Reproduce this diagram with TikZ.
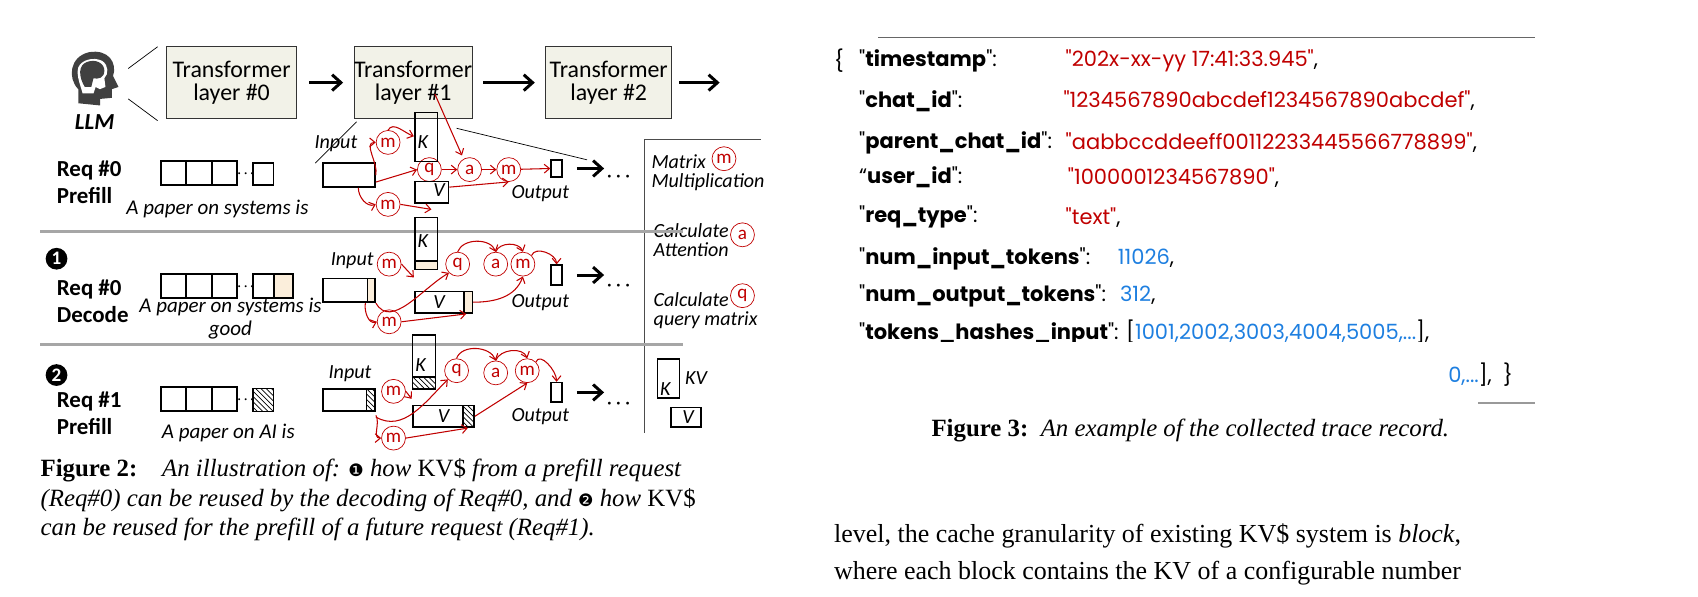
\documentclass[tikz,border=0pt]{standalone}
\usepackage{fontspec}
\setmainfont{Liberation Serif}
\newfontfamily\fig{Carlito}
\newfontfamily\js{Poppins}
\newfontfamily\dv{DejaVu Sans}
\usetikzlibrary{arrows.meta,patterns}
\definecolor{rd}{HTML}{C00000}
\definecolor{bl}{HTML}{1E7FE0}
\definecolor{lay}{HTML}{F2F2E8}
\definecolor{bei}{HTML}{FBEEDB}
\begin{document}
\begin{tikzpicture}[x=0.02174cm,y=-0.02174cm,every node/.append style={scale=1.087},
  layer/.style={draw=black!80,fill=lay,minimum width=120*0.02cm,minimum height=66*0.02cm,align=center,font=\fig\fontsize{12.5}{12}\selectfont,inner sep=0},
  big/.style={-{Straight Barb[length=5pt,width=9pt]},line width=1.7pt},
  op/.style={circle,draw=rd,text=rd,minimum size=22*0.02cm,inner sep=0,font=\fig\fontsize{10}{10}\selectfont},
  ra/.style={draw=rd,-{Straight Barb[length=3pt,width=5pt]},line width=0.6pt},
  bx/.style={draw,line width=0.9pt,inner sep=0},
  lbl/.style={font=\fig\itshape\fontsize{10.5}{10}\selectfont,inner sep=0},
  req/.style={font=\fig\bfseries\fontsize{12}{14}\selectfont,align=left,anchor=west,inner sep=0},
  sep/.style={draw=black!35,line width=1.8pt},
  num/.style={circle,fill=black,text=white,font=\fig\bfseries\fontsize{10}{10}\selectfont,minimum size=20*0.02cm,inner sep=0},
  jk/.style={font=\js\bfseries\fontsize{11}{11}\selectfont,anchor=west,inner sep=0},
  jv/.style={font=\js\fontsize{11}{11}\selectfont,anchor=west,inner sep=0},
  capt/.style={font=\fontsize{13}{15}\selectfont,anchor=west,inner sep=0}]
\useasboundingbox (0,0) rectangle (1562,549);
% ---------- Figure 2 ----------
\fill[black!75] (72,95) -- (72,82) .. controls (62,72) and (64,52) .. (82,48) .. controls (100,45) and (108,58) .. (104,70) -- (109,80) -- (103,82) -- (103,90) -- (92,91) -- (92,97) -- cycle;
\fill[white] (76,86) .. controls (74,78) and (70,70) .. (72,62) .. controls (75,55) and (86,52) .. (94,56) .. controls (100,60) and (100,68) .. (96,72) -- (97,80) -- (92,82) -- (88,80) -- (86,86) -- cycle;
\fill[black!75] (78,80) .. controls (72,70) and (72,60) .. (80,57) .. controls (88,54) and (96,58) .. (96,65) .. controls (96,72) and (90,73) .. (86,72) -- (84,80) -- cycle;
\node[font=\fig\bfseries\itshape\fontsize{12}{12}\selectfont] (llm) at (87,112) {LLM};
\coordinate (h1) at (118,63); \coordinate (h2) at (145,43);
\coordinate (h3) at (118,91); \coordinate (h4) at (145,111);
\draw (h1)--(h2) (h3)--(h4);
\node[layer] (L0) at (213,76) {Transformer\\layer \#0};
\node[layer,minimum width=106*0.02cm] (L1) at (380,76) {Transformer\\layer \#1};
\node[layer,minimum width=116*0.02cm] (L2) at (560,76) {Transformer\\layer \#2};
\coordinate (Lend) at (662,76);
\draw[big] ([xshift=7]L0.east) -- ([xshift=-6]L1.west);
\draw[big] ([xshift=6]L1.east) -- ([xshift=-6]L2.west);
\draw[big] ([xshift=4]L2.east) -- (Lend);
\coordinate (z1) at (290,150); \coordinate (z2) at (328,112);
\coordinate (z3) at (420,118); \coordinate (z4) at (540,147);
\draw (z2)--(z1) (z3)--(z4);
% legend panel
\coordinate (p1) at (700,128); \coordinate (p2) at (593,128); \coordinate (p3) at (593,398);
\draw[black!70] (p1)--(p2)--(p3);
\node[lbl,align=left,anchor=north west] (lg1) at (599,142) {Matrix\\Multiplication};
\node[op] (lgm) at (666,146) {m};
\node[lbl,align=left,anchor=north west] (lg2) at (601,205) {Calculate\\Attention};
\node[op] (lga) at (683,216) {a};
\node[lbl,align=left,anchor=north west] (lg3) at (601,269) {Calculate\\query matrix};
\node[op] (lgq) at (683,272) {q};
\node[bx,minimum width=20*0.02cm,minimum height=36*0.02cm] (lgK) at (615,348) {};
\node[lbl] at (612,358) {K};
\node[lbl,anchor=west] (lgkv) at (630,348) {KV};
\node[bx,minimum width=28*0.02cm,minimum height=18*0.02cm] (lgV) at (631,384) {};
\node[lbl] at (633,384) {V};
% separators
\draw[sep] (37,213) -- (628,213);
\draw[sep] (37,317) -- (628,317);
\foreach \y in {159,263,367}{
  \draw[line width=0.9pt] (148,\y-11) rectangle (218,\y+11) (171,\y-11)--(171,\y+11) (195,\y-11)--(195,\y+11);
  \node[font=\fig\bfseries] at (226,\y+1) {$\cdot\!\cdot\!\cdot$};
}
% ---- row 1
\node[req] (r1) at (52,168) {Req \#0\\Prefill};
\node[bx,minimum width=19*0.02cm,minimum height=20*0.02cm] (t1) at (242,160) {};
\node[lbl,font=\fig\itshape\fontsize{11}{11}\selectfont] (s1) at (200,192) {A paper on systems is};
\node[bx,minimum width=48*0.02cm,minimum height=22*0.02cm] (in1) at (321,161) {};
\node[lbl] (il1) at (309,132) {Input};
\node[op] (m1a) at (357,131) {m};
\node[op] (m1b) at (357,188) {m};
\node[op] (q1) at (395,156) {q};
\node[op] (a1) at (432,156) {a};
\node[op] (m1c) at (468,156) {m};
\node[bx,minimum width=21*0.02cm,minimum height=45*0.02cm] (K1) at (392,126) {};
\node[lbl] at (389,131) {K};
\node[bx,minimum width=31*0.02cm,minimum height=20*0.02cm] (V1) at (397,177) {};
\node[lbl] at (404,175) {V};
\node[bx,minimum width=10*0.02cm,minimum height=16*0.02cm] (o1) at (512,155) {};
\node[lbl] (ol1) at (497,178) {Output};
\draw[big] ([xshift=8]o1.east) -- ++(25,0) coordinate (e1);
\node[font=\fig\bfseries\Large] (d1) at (569,163) {$\cdot\!\cdot\!\cdot$};
\draw[ra] (in1.east) to[out=80,in=180] (m1a.west);
\draw[ra] (m1a.north) to[out=60,in=160] ([yshift=-14]K1.north west);
\draw[ra] ([xshift=-2,yshift=10]K1.north east) -- (425,143);
\draw[ra] ([yshift=-4]in1.east) -- (q1.west);
\draw[ra] (q1) -- (a1);
\draw[ra] (a1) -- (m1c);
\draw[ra] (m1c) -- (o1.west);
\draw[ra] ([xshift=-10]in1.south east) to[out=-90,in=200] (m1b.west);
\draw[ra] (m1b.east) -- ([xshift=10,yshift=-3]V1.south west);
\draw[ra] ([yshift=3]V1.east) -- (m1c.south);
% ---- row 2
\node[num] (n1) at (52,238) {1};
\node[req] (r2) at (52,277) {Req \#0\\Decode};
\node[bx,minimum width=37*0.02cm,minimum height=22*0.02cm] (t2) at (251,263) {};
\filldraw[fill=bei,line width=0.9pt] (252,252) rectangle (269.5,274);
\node[lbl,align=center,font=\fig\itshape\fontsize{11}{12}\selectfont] (s2) at (212,293) {A paper on systems is\\good};
\node[bx,minimum width=48*0.02cm,minimum height=22*0.02cm] (in2) at (321,267) {};
\filldraw[fill=bei,line width=0.9pt] (338,256) rectangle (345,278);
\node[lbl] (il2) at (324,240) {Input};
\node[bx,minimum width=21*0.02cm,minimum height=48*0.02cm] (K2) at (392,224) {};
\filldraw[fill=bei,line width=0.9pt] (381.5,240) rectangle (402.5,248);
\node[lbl] at (389,222) {K};
\node[bx,minimum width=53*0.02cm,minimum height=20*0.02cm] (V2) at (408,278) {};
\filldraw[fill=bei,line width=0.9pt] (427,268) rectangle (434.5,288);
\node[lbl] at (404,278) {V};
\node[op] (m2a) at (358,243) {m};
\node[op] (m2b) at (358,296) {m};
\node[op] (q2) at (421,243) {q};
\node[op] (a2) at (456,243) {a};
\node[op] (m2c) at (481,243) {m};
\node[bx,minimum width=10*0.02cm,minimum height=18*0.02cm] (o2) at (512,253) {};
\node[lbl] (ol2) at (497,278) {Output};
\draw[big] ([xshift=8]o2.east) -- ++(25,0) coordinate (e2);
\node[font=\fig\bfseries\Large] (d2) at (569,263) {$\cdot\!\cdot\!\cdot$};
\draw[ra] (m2a.east) -- ([yshift=-4]K2.south west);
\draw[ra] (in2.south east) to[out=-60,in=210] (q2.south west);
\draw[ra] (q2.north) to[out=70,in=110] (a2.north);
\draw[ra] (a2.north) to[out=70,in=110] (m2c.north);
\draw[ra] (m2c.north east) to[out=70,in=90] (o2.north);
\draw[ra] ([xshift=-6]in2.south east) to[out=-100,in=200] (m2b.west);
\draw[ra] (m2b.east) -- ([xshift=-4]V2.south east);
\draw[ra] (V2.east) to[out=0,in=-110] (m2c.south);
% ---- row 3
\node[num] (n2) at (52,345) {2};
\node[req] (r3) at (52,380) {Req \#1\\Prefill};
\node[bx,minimum width=19*0.02cm,minimum height=21*0.02cm,pattern=north west lines] (t3) at (242,368) {};
\node[lbl,font=\fig\itshape\fontsize{11}{11}\selectfont] (s3) at (210,398) {A paper on AI is};
\node[bx,minimum width=48*0.02cm,minimum height=20*0.02cm] (in3) at (321,368) {};
\draw[pattern=north west lines,line width=0.9pt] (337,358) rectangle (345,378);
\node[lbl] (il3) at (322,344) {Input};
\node[bx,minimum width=21*0.02cm,minimum height=50*0.02cm] (K3) at (390,333) {};
\draw[pattern=north west lines,line width=0.9pt] (379.5,347) rectangle (400.5,358);
\node[lbl] at (387,336) {K};
\node[bx,minimum width=56*0.02cm,minimum height=20*0.02cm] (V3) at (408,383) {};
\draw[pattern=north west lines,line width=0.9pt] (426,373) rectangle (436,393);
\node[lbl] at (408,383) {V};
\node[op] (m3a) at (362,360) {m};
\node[op] (m3b) at (362,403) {m};
\node[op] (q3) at (420,341) {q};
\node[op] (a3) at (456,343) {a};
\node[op] (m3c) at (485,341) {m};
\node[bx,minimum width=10*0.02cm,minimum height=18*0.02cm] (o3) at (512,361) {};
\node[lbl] (ol3) at (497,383) {Output};
\draw[big] ([xshift=8]o3.east) -- ++(25,0) coordinate (e3);
\node[font=\fig\bfseries\Large] (d3) at (569,372) {$\cdot\!\cdot\!\cdot$};
\draw[ra] (m3a.east) -- ([yshift=-5]K3.south west);
\draw[ra] ([yshift=-3]in3.south east) to[out=-30,in=225] (q3.south west);
\draw[ra] (q3.north) to[out=70,in=110] (a3.north);
\draw[ra] (a3.north) to[out=70,in=110] (m3c.north);
\draw[ra] (m3c.north east) to[out=70,in=90] (o3.north);
\draw[ra] ([yshift=-2]in3.south east) to[out=-60,in=180] (m3b.west);
\draw[ra] (m3b.east) -- ([xshift=-4]V3.south east);
\draw[ra] (V3.east) -- (m3c.south);
% caption fig 2
\node[capt] (c21) at (37,433) {\textbf{Figure 2:}\quad\itshape An illustration of: {\dv\upshape\small ❶} how \upshape KV\$ \itshape from a prefill request};
\node[capt] (c22) at (37,460) {\itshape (Req\#0) can be reused by the decoding of Req\#0, and {\dv\upshape\small ❷} how \upshape KV\$};
\node[capt] (c23) at (37,487) {\itshape can be reused for the prefill of a future request (Req\#1).};
% ---------- Figure 3 ----------
\coordinate (t1a) at (808,34); \coordinate (t1b) at (1412,34);
\draw[black!60] (t1a)--(t1b);
\coordinate (t2a) at (1360,371); \coordinate (t2b) at (1412,371);
\draw[black!40,line width=1pt] (t2a)--(t2b);
\node[jv] (br) at (767,56) {\{};
\node[jk] (k1) at (790,56) {\mdseries"\bfseries timestamp\mdseries":};
\node[jv,text=rd] (v1) at (980,56) {"202x-xx-yy 17:41:33.945"\textcolor{black}{,}};
\node[jk] (k2) at (790,93) {\mdseries"\bfseries chat\_id\mdseries":};
\node[jv,text=rd] (v2) at (978,93) {"1234567890abcdef1234567890abcdef"\textcolor{black}{,}};
\node[jk] (k3) at (790,131) {\mdseries"\bfseries parent\_chat\_id\mdseries":};
\node[jv,text=rd] (v3) at (980,131) {"aabbccddeeff00112233445566778899"\textcolor{black}{,}};
\node[jk] (k4) at (790,163) {\mdseries“\bfseries user\_id\mdseries":};
\node[jv,text=rd] (v4) at (982,163) {"1000001234567890"\textcolor{black}{,}};
\node[jk] (k5) at (790,200) {\mdseries"\bfseries req\_type\mdseries":};
\node[jv,text=rd] (v5) at (980,200) {"text"\textcolor{black}{,}};
\node[jk] (k6) at (790,238) {\mdseries"\bfseries num\_input\_tokens\mdseries":};
\node[jv,text=bl] (v6) at (1028,238) {11026\textcolor{black}{,}};
\node[jk] (k7) at (790,272) {\mdseries"\bfseries num\_output\_tokens\mdseries":};
\node[jv,text=bl] (v7) at (1030,272) {312\textcolor{black}{,}};
\begin{scope}
\clip (780,290) rectangle (1420,314);
\node[jk] (k8) at (790,306) {\mdseries"\bfseries tokens\_hashes\_input\mdseries": [\textcolor{bl}{1001,2002,3003,4004,5005,...}],};
\end{scope}
\begin{scope}
\clip (1305,330) rectangle (1420,360);
\node[jv,anchor=east] (v9) at (1392,345) {\textcolor{bl}{0,...}],\ \ \}};
\end{scope}
\node[font=\fontsize{13}{15}\selectfont,inner sep=0] (c3) at (1095,396) {\textbf{Figure 3:}\ \ \itshape An example of the collected trace record.};
% body text
\node[capt,font=\fontsize{13.6}{16}\selectfont] (b1) at (767,493) {level, the cache granularity of existing KV\$ system is \emph{block},};
\node[capt,font=\fontsize{13.6}{16}\selectfont] (b2) at (767,527) {where each block contains the KV of a configurable number};
\end{tikzpicture}
\end{document}
